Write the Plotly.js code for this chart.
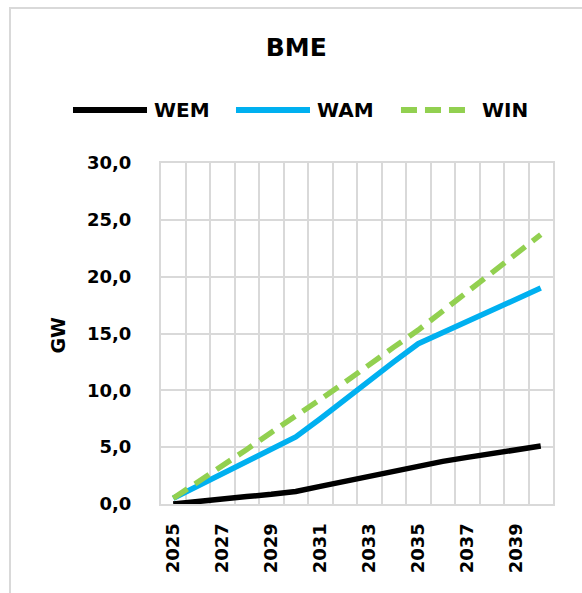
<!DOCTYPE html>
<html>
<head>
<meta charset="utf-8">
<script src="https://cdn.plot.ly/plotly-3.0.1.min.js"></script>
<style>
  html, body { margin: 0; padding: 0; background: #fff; overflow: hidden; }
  #chart { width: 582px; height: 593px; position: absolute; left: 0; top: 0; }
  #frame { position: absolute; left: 9px; top: 7px; width: 620px; height: 640px;
           border: 2px solid #d9d9d9; pointer-events: none; }
</style>
</head>
<body>
<div id="chart"></div>
<div id="frame"></div>
<script>
// ---- data ----
const years = [2025, 2026, 2027, 2028, 2029, 2030, 2031, 2032, 2033, 2034, 2035, 2036, 2037, 2038, 2039, 2040];
const wem = [0.0, 0.25, 0.45, 0.65, 0.85, 1.1, 1.55, 2.0, 2.5, 2.95, 3.4, 3.75, 4.1, 4.45, 4.8, 5.1];
const wam = [0.5, 1.6, 2.6, 3.7, 4.8, 5.9, 7.5, 9.2, 10.8, 12.5, 14.1, 15.1, 16.1, 17.0, 18.0, 19.0];
const win = [0.5, 1.9, 3.4, 4.8, 6.3, 7.7, 9.2, 10.7, 12.3, 13.8, 15.3, 17.0, 18.7, 20.3, 22.0, 23.7];
const seriesNames = ["WEM", "WAM", "WIN"];
const chartTitle = "BME";
const yTitle = "GW";

// ---- styles ----
const colors = ["#000000", "#00B0F0", "#92D050"];
const dashes = ["solid", "solid", "17px,9px"];
const FONT = "DejaVu Sans";
const GRID = "#d9d9d9";

const seriesValues = [wem, wam, win];
const traces = seriesValues.map((vals, i) => ({
  x: years, y: vals, type: "scatter", mode: "lines", name: seriesNames[i],
  line: { color: colors[i], width: 5.5, dash: dashes[i] },
  showlegend: false, hoverinfo: "skip"
}));

// custom legend (paper coordinates relative to the plot area)
const legY = 1.1554;
const legLines = [[-0.2245, -0.0357], [0.1913, 0.3801], [0.6122, 0.7806]];
const legText = [-0.023, 0.3929, 0.8138];
const shapes = legLines.map((p, i) => ({
  type: "line", xref: "paper", yref: "paper", x0: p[0], x1: p[1], y0: legY, y1: legY,
  line: { color: colors[i], width: 6, dash: i === 2 ? "16px,8px" : "solid" }
}));
const annotations = seriesNames.map((n, i) => ({
  xref: "paper", yref: "paper", x: legText[i], y: legY, xanchor: "left", yanchor: "middle",
  text: n, showarrow: false, font: { family: FONT, size: 20, weight: "bold", color: "#000" }
}));
annotations.push({
  xref: "paper", yref: "paper", x: -0.2615, y: 0.4956, xanchor: "center", yanchor: "middle",
  text: yTitle, textangle: -90, showarrow: false,
  font: { family: FONT, size: 19, weight: "bold", color: "#000" }
});

const layout = {
  width: 582, height: 593,
  margin: { l: 161, r: 29, t: 163, b: 89, pad: 0 },
  paper_bgcolor: "#ffffff", plot_bgcolor: "#ffffff",
  separators: ",.",
  title: {
    text: chartTitle, x: 0.509, xanchor: "center", y: 0.9207, yanchor: "middle",
    font: { family: FONT, size: 25, weight: "bold", color: "#000" }
  },
  xaxis: {
    type: "linear", range: [2024.5, 2040.5], tick0: 2025, dtick: 2,
    tickangle: -90, showgrid: false, zeroline: false,
    showline: true, mirror: true, linecolor: GRID, linewidth: 2,
    ticks: "", ticklabelstandoff: 10,
    tickfont: { family: FONT, size: 18, weight: "bold", color: "#000" },
    minor: { tick0: 2024.5, dtick: 1, showgrid: true, gridcolor: GRID, gridwidth: 2, ticks: "" },
    fixedrange: true
  },
  yaxis: {
    range: [0, 30], dtick: 5, tickformat: ".1f",
    showgrid: true, gridcolor: GRID, gridwidth: 2, zeroline: false,
    showline: true, mirror: true, linecolor: GRID, linewidth: 2,
    ticks: "", ticklabelstandoff: 24,
    tickfont: { family: FONT, size: 18, weight: "bold", color: "#000" },
    fixedrange: true
  },
  shapes: shapes,
  annotations: annotations,
  showlegend: false
};

Plotly.newPlot("chart", traces, layout, { displayModeBar: false, staticPlot: true });
</script>
</body>
</html>
